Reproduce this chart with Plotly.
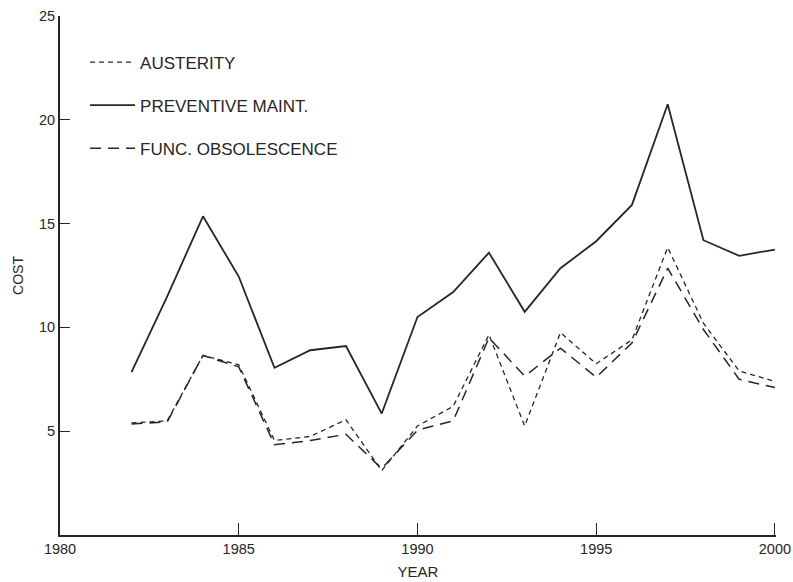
import plotly.graph_objects as go

years = list(range(1982, 2001))
preventive = [7.85, 11.5, 15.35, 12.45, 8.05, 8.9, 9.1, 5.85, 10.5, 11.7,
              13.6, 10.75, 12.85, 14.15, 15.9, 20.75, 14.2, 13.45, 13.75]
austerity = [5.4, 5.5, 8.65, 8.2, 4.55, 4.75, 5.55, 3.1, 5.25, 6.2,
             9.65, 5.25, 9.75, 8.25, 9.4, 13.85, 10.2, 7.9, 7.4]
func_obs = [5.35, 5.45, 8.65, 8.1, 4.35, 4.55, 4.85, 3.2, 5.05, 5.5,
            9.5, 7.65, 9.0, 7.6, 9.25, 12.85, 9.9, 7.5, 7.1]

x_ticks = [1980, 1985, 1990, 1995, 2000]
y_ticks = [5, 10, 15, 20, 25]

ink = "#262626"
font = "Liberation Sans, Arial, sans-serif"

fig = go.Figure()
fig.add_trace(go.Scatter(x=years, y=austerity, mode="lines", name="AUSTERITY",
                         legendgroup="a",
                         line=dict(color=ink, width=1.3, dash="5px,4px")))
fig.add_trace(go.Scatter(x=years, y=preventive, mode="lines", name="PREVENTIVE MAINT.",
                         legendgroup="b",
                         line=dict(color=ink, width=1.8)))
fig.add_trace(go.Scatter(x=years, y=func_obs, mode="lines", name="FUNC. OBSOLESCENCE",
                         legendgroup="c",
                         line=dict(color=ink, width=1.5, dash="11px,7px")))

fig.update_layout(
    width=793, height=582,
    margin=dict(l=60, r=17, t=16, b=47),
    paper_bgcolor="white", plot_bgcolor="white",
    font=dict(family=font, size=14, color=ink),
    showlegend=True,
    legend=dict(x=0.035, y=0.945, xanchor="left", yanchor="top",
                traceorder="grouped", tracegroupgap=18, itemwidth=45,
                bgcolor="rgba(0,0,0,0)", font=dict(size=17, color=ink)),
    xaxis=dict(range=[1980, 2000.03], tickvals=x_ticks, ticktext=[str(v) for v in x_ticks],
               showgrid=False, zeroline=False, showline=True, linecolor=ink, linewidth=2,
               ticks="inside", ticklen=12, tickwidth=1.3, tickcolor=ink, automargin=False,
               ticklabeloverflow="allow",
               title=dict(text="YEAR", standoff=10, font=dict(size=15)),
               tickfont=dict(size=14.5)),
    yaxis=dict(range=[0, 25], tickvals=y_ticks, ticktext=[str(v) for v in y_ticks],
               showgrid=False, zeroline=False, showline=True, linecolor=ink, linewidth=2,
               ticks="inside", ticklen=10, tickwidth=1.3, tickcolor=ink, automargin=False,
               ticklabeloverflow="allow",
               title=dict(text="COST", standoff=12, font=dict(size=14)),
               tickfont=dict(size=14.5)),
)

fig.write_html("out.html")
